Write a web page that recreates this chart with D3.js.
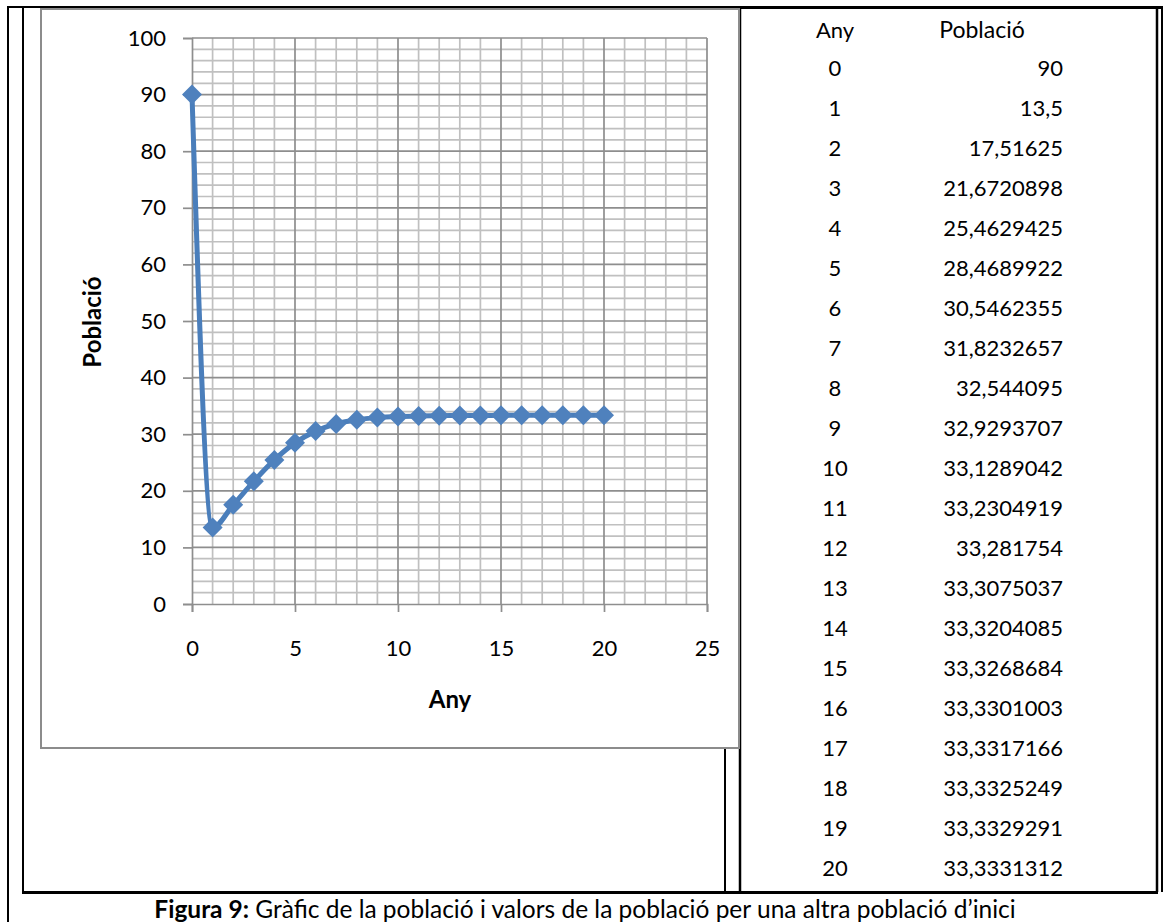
<!DOCTYPE html>
<html>
<head>
<meta charset="utf-8">
<script src="https://cdn.jsdelivr.net/npm/d3@7/dist/d3.min.js"></script>
<style>
  html, body { margin: 0; padding: 0; background: #fff; }
  svg { display: block; }
  text { font-family: Lato, "Open Sans", sans-serif; fill: #000; }
</style>
</head>
<body>
<svg id="fig" width="1164" height="922"></svg>
<script>
// Years and population values
const years = [0, 1, 2, 3, 4, 5, 6, 7, 8, 9, 10, 11, 12, 13, 14, 15, 16, 17, 18, 19, 20];
const population = [90, 13.5, 17.51625, 21.6720898, 25.4629425, 28.4689922, 30.5462355,
  31.8232657, 32.544095, 32.9293707, 33.1289042, 33.2304919, 33.281754, 33.3075037,
  33.3204085, 33.3268684, 33.3301003, 33.3317166, 33.3325249, 33.3329291, 33.3331312];
const xTicks = [0, 5, 10, 15, 20, 25];
const yTicks = [0, 10, 20, 30, 40, 50, 60, 70, 80, 90, 100];
const tableHeaders = ["Any", "Població"];
const caption = ["Figura 9:", " Gràfic de la població i valors de la població per una altra població d’inici"];

const svg = d3.select("#fig");

// ---- document table borders ----
const borders = svg.append("g").attr("stroke", "#000").attr("fill", "none");
borders.append("line").attr("x1", 8).attr("x2", 8).attr("y1", 6).attr("y2", 922).attr("stroke-width", 2);
borders.append("line").attr("x1", 23).attr("x2", 23).attr("y1", 7).attr("y2", 894).attr("stroke-width", 2);
borders.append("line").attr("x1", 7).attr("x2", 741).attr("y1", 7).attr("y2", 7).attr("stroke-width", 2);
borders.append("line").attr("x1", 740).attr("x2", 1163).attr("y1", 7.5).attr("y2", 7.5).attr("stroke-width", 3);
borders.append("line").attr("x1", 740).attr("x2", 740).attr("y1", 7).attr("y2", 892).attr("stroke-width", 2.5);
borders.append("line").attr("x1", 725).attr("x2", 725).attr("y1", 749).attr("y2", 894).attr("stroke-width", 2);
borders.append("line").attr("x1", 22).attr("x2", 1158).attr("y1", 892.5).attr("y2", 892.5).attr("stroke-width", 3);
borders.append("line").attr("x1", 1157).attr("x2", 1157).attr("y1", 7).attr("y2", 892).attr("stroke-width", 2.5);
borders.append("line").attr("x1", 1162).attr("x2", 1162).attr("y1", 7).attr("y2", 892).attr("stroke-width", 2);

// ---- chart frame ----
svg.append("rect").attr("x", 41).attr("y", 9).attr("width", 698).attr("height", 739)
  .attr("fill", "#fff").attr("stroke", "#8c8c8c").attr("stroke-width", 2);

const x = d3.scaleLinear().domain([0, 25]).range([192, 707]);
const y = d3.scaleLinear().domain([0, 100]).range([604, 38]);

// minor gridlines
const grid = svg.append("g");
grid.selectAll(".vmin").data(d3.range(1, 26).filter(d => d % 5 !== 0)).join("line")
  .attr("x1", d => x(d)).attr("x2", d => x(d)).attr("y1", y(100)).attr("y2", y(0))
  .attr("stroke", "#c0c0c0").attr("stroke-width", 1.7);
grid.selectAll(".hmin").data(d3.range(2, 101, 2).filter(d => d % 10 !== 0)).join("line")
  .attr("x1", x(0)).attr("x2", x(25)).attr("y1", d => y(d)).attr("y2", d => y(d))
  .attr("stroke", "#c0c0c0").attr("stroke-width", 1.7);
// major gridlines
grid.selectAll(".vmaj").data(xTicks.slice(1)).join("line")
  .attr("x1", d => x(d)).attr("x2", d => x(d)).attr("y1", y(100)).attr("y2", y(0))
  .attr("stroke", "#8e8e8e").attr("stroke-width", 1.7);
grid.selectAll(".hmaj").data(yTicks.slice(1)).join("line")
  .attr("x1", x(0)).attr("x2", x(25)).attr("y1", d => y(d)).attr("y2", d => y(d))
  .attr("stroke", "#8e8e8e").attr("stroke-width", 1.7);

// axes
const xAxis = svg.append("g").attr("transform", `translate(0,${y(0)})`)
  .call(d3.axisBottom(x).tickValues(xTicks).tickSize(8).tickPadding(28).tickFormat(d3.format("d")));
const yAxis = svg.append("g").attr("transform", `translate(${x(0)},0)`)
  .call(d3.axisLeft(y).tickValues(yTicks).tickSize(9).tickPadding(17).tickFormat(d3.format("d")));
[xAxis, yAxis].forEach(a => {
  a.select(".domain").attr("stroke", "#8e8e8e").attr("stroke-width", 1.7);
  a.selectAll(".tick line").attr("stroke", "#8e8e8e").attr("stroke-width", 1.7);
  a.selectAll(".tick text").attr("font-family", "Lato, sans-serif").attr("font-size", 22).attr("fill", "#000");
});

// axis titles
svg.append("text").attr("x", 450).attr("y", 708).attr("text-anchor", "middle")
  .attr("font-size", 24).attr("font-weight", "bold").text("Any");
svg.append("text").attr("transform", "translate(101,322) rotate(-90)").attr("text-anchor", "middle")
  .attr("font-size", 24).attr("font-weight", "bold").text("Població");

// series line (smoothed) and diamond markers
const pts = years.map((yr, i) => [yr, population[i]]);
svg.append("path").datum(pts)
  .attr("d", d3.line().x(d => x(d[0])).y(d => y(d[1])).curve(d3.curveMonotoneX))
  .attr("fill", "none").attr("stroke", "#4a7ebb").attr("stroke-width", 5).attr("stroke-linejoin", "round");
svg.append("g").selectAll("path").data(pts).join("path")
  .attr("d", d3.symbol(d3.symbolSquare, 200))
  .attr("transform", d => `translate(${x(d[0])},${y(d[1])}) rotate(45)`)
  .attr("fill", "#4f81bd");

// ---- data table ----
const colAny = 835, colPop = 1063, headY = 38, rowY0 = 76, rowStep = 40;
svg.append("text").attr("x", colAny).attr("y", headY).attr("text-anchor", "middle").attr("font-size", 22).text(tableHeaders[0]);
svg.append("text").attr("x", 982).attr("y", headY).attr("text-anchor", "middle").attr("font-size", 23).text(tableHeaders[1]);
const rows = svg.append("g").selectAll("g").data(pts).join("g")
  .attr("transform", (d, i) => `translate(0,${rowY0 + i * rowStep})`);
rows.append("text").attr("x", colAny).attr("text-anchor", "middle").attr("font-size", 22).text(d => d[0]);
rows.append("text").attr("x", colPop).attr("text-anchor", "end").attr("font-size", 22)
  .text(d => String(d[1]).replace(".", ","));

// ---- caption ----
const cap = svg.append("text").attr("x", 585).attr("y", 918).attr("text-anchor", "middle").attr("font-size", 24.5);
cap.append("tspan").attr("font-weight", "bold").text(caption[0]);
cap.append("tspan").text(caption[1]);
</script>
</body>
</html>
